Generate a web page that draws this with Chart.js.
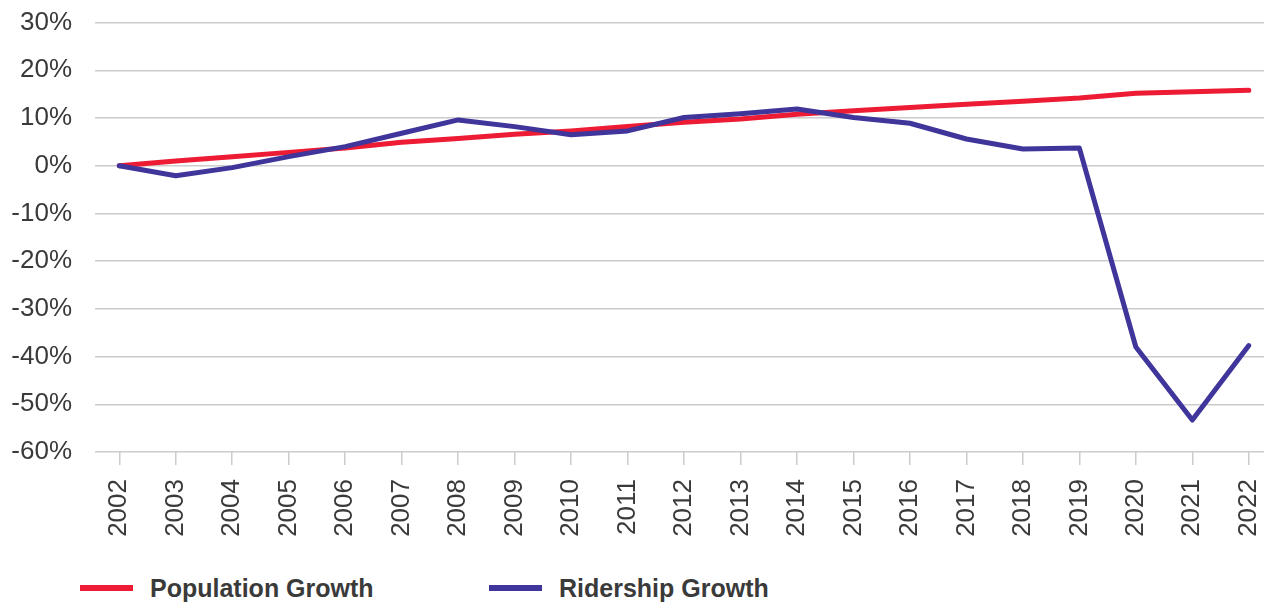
<!DOCTYPE html>
<html>
<head>
<meta charset="utf-8">
<script src="https://cdn.jsdelivr.net/npm/chart.js@4.4.1/dist/chart.umd.min.js"></script>
<style>
  html, body { margin: 0; padding: 0; background: #fff; overflow: hidden; }
  #wrap { position: relative; width: 1264px; height: 605px; overflow: hidden; }
  #chart { position: absolute; left: 0; top: -16px; }
  .legend-item {
    position: absolute;
    top: 573px;
    height: 30px;
    display: flex;
    align-items: center;
    font-family: "Liberation Sans", Arial, sans-serif;
    font-weight: bold;
    font-size: 25px;
    color: #3a3a3a;
  }
  .legend-line { width: 53px; height: 6px; margin-right: 17px; }
</style>
</head>
<body>
<div id="wrap">
  <canvas id="chart" width="1294" height="576"></canvas>
  <div class="legend-item" style="left:80px"><span class="legend-line" style="background:#ED1B34"></span>Population Growth</div>
  <div class="legend-item" style="left:489px"><span class="legend-line" style="background:#40359A"></span>Ridership Growth</div>
</div>
<script>
const years = [2002, 2003, 2004, 2005, 2006, 2007, 2008, 2009, 2010, 2011, 2012,
               2013, 2014, 2015, 2016, 2017, 2018, 2019, 2020, 2021, 2022];
const populationGrowth = [0, 1.0, 1.9, 2.8, 3.7, 4.9, 5.7, 6.6, 7.3, 8.2, 9.1,
                          9.8, 10.8, 11.5, 12.2, 12.9, 13.5, 14.2, 15.2, 15.5, 15.8];
const ridershipGrowth = [0, -2.1, -0.4, 1.9, 4.0, 6.8, 9.6, 8.2, 6.5, 7.3, 10.1,
                         10.9, 11.9, 10.1, 8.9, 5.6, 3.5, 3.7, -38.0, -53.3, -37.7];
const yTicks = [30, 20, 10, 0, -10, -20, -30, -40, -50, -60];

const textColor = '#3a3a3a';
const gridColor = '#cccccc';
const tickFont = { family: '"Liberation Sans", Arial, sans-serif', size: 26 };

function toPoints(values) {
    return years.map((year, i) => ({ x: year, y: values[i] }));
}

const ctx = document.getElementById('chart').getContext('2d');
const chart = new Chart(ctx, {
    type: 'line',
    data: {
        datasets: [
            {
                label: 'Population Growth',
                data: toPoints(populationGrowth),
                borderColor: '#ED1B34',
                borderWidth: 5,
                pointRadius: 0,
                borderCapStyle: 'round',
                borderJoinStyle: 'round',
                tension: 0,
                order: 1
            },
            {
                label: 'Ridership Growth',
                data: toPoints(ridershipGrowth),
                borderColor: '#40359A',
                borderWidth: 5,
                pointRadius: 0,
                borderCapStyle: 'round',
                borderJoinStyle: 'round',
                tension: 0,
                order: 0
            }
        ]
    },
    options: {
        responsive: false,
        animation: false,
        devicePixelRatio: 1,
        layout: { padding: { top: 7, right: 0, left: 0, bottom: 0 } },
        plugins: {
            legend: { display: false },
            tooltip: { enabled: false }
        },
        scales: {
            x: {
                type: 'linear',
                min: years[0] - 0.43,
                max: years[years.length - 1] + 0.29,
                border: { display: false },
                grid: {
                    drawOnChartArea: false,
                    drawTicks: true,
                    tickLength: 13,
                    color: gridColor,
                    lineWidth: 1.5
                },
                ticks: {
                    stepSize: 1,
                    includeBounds: false,
                    autoSkip: false,
                    minRotation: 90,
                    maxRotation: 90,
                    padding: 14,
                    color: textColor,
                    font: tickFont,
                    callback: value => String(value)
                },
                afterFit: scale => { scale.height = 108; }
            },
            y: {
                min: yTicks[yTicks.length - 1],
                max: yTicks[0],
                border: { display: false },
                grid: {
                    drawTicks: false,
                    color: gridColor,
                    lineWidth: 1.5
                },
                ticks: {
                    stepSize: 10,
                    padding: 23,
                    color: textColor,
                    font: tickFont,
                    callback: value => value + '%'
                },
                afterFit: scale => { scale.width = 95; }
            }
        }
    }
});
</script>
</body>
</html>
